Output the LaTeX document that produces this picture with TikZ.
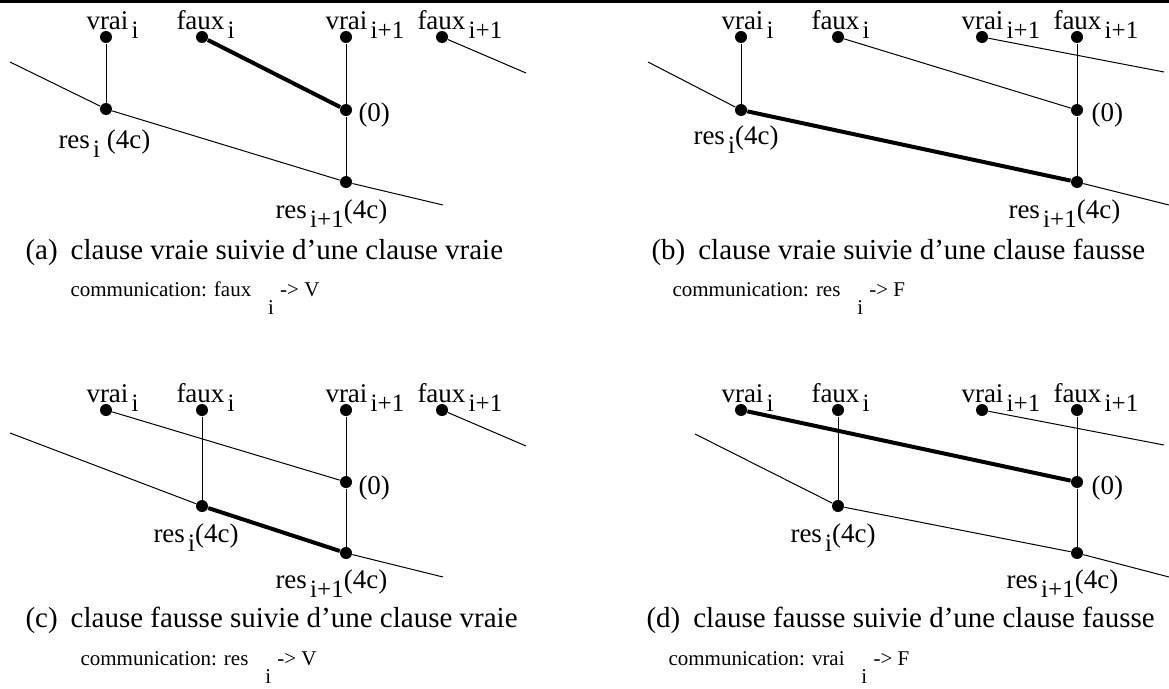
\documentclass[tikz,border=0pt]{standalone}
\usepackage{fontspec}
\setmainfont{Liberation Serif}
\newcommand{\lowidx}[1]{\hspace{0.12em}\raisebox{-0.36em}{\fontsize{25pt}{25pt}\selectfont #1}}
\newcommand{\commidx}[1]{\hspace{0.8em}\raisebox{-0.9em}{#1}\hspace{0.3em}}

\begin{document}
\begin{tikzpicture}[x=1pt, y=-1pt, line width=1pt,
  vtx/.style={circle,fill=black,inner sep=0pt,minimum size=12pt},
  lbl/.style={anchor=base west,inner sep=0pt,font=\fontsize{27pt}{30pt}\selectfont},
  subcap/.style={anchor=base west,inner sep=0pt,font=\fontsize{29pt}{32pt}\selectfont},
  comm/.style={anchor=base west,inner sep=0pt,font=\fontsize{21pt}{24pt}\selectfont},
  heavy/.style={line width=4pt}]
  \useasboundingbox (0,0) rectangle (1169,688);
  \draw[line width=3pt] (0,1.5) -- (1169,1.5);

  % (a)
  \begin{scope}
    \node[vtx] (aV) at (106,37) {};
    \node[vtx] (aF) at (202,37) {};
    \node[vtx] (aV1) at (346,37) {};
    \node[vtx] (aF1) at (442,37) {};
    \node[vtx] (aZ) at (346,110) {};
    \node[vtx] (aR) at (106,109) {};
    \node[vtx] (aR1) at (346,182) {};
    \coordinate (aL) at (10,62);
    \coordinate (aE) at (443,205);
    \coordinate (aT) at (526,73);
    \node[lbl] (aVt) at (86,29) {vrai\lowidx{i}};
    \node[lbl] (aFt) at (176,29) {faux\lowidx{i}};
    \node[lbl] (aV1t) at (325,29) {vrai\lowidx{i+1}};
    \node[lbl] (aF1t) at (417,29) {faux\lowidx{i+1}};
    \node[lbl] (aZt) at (358,121) {(0)};
    \node[lbl] (aRt) at (58,148) {res\lowidx{i} (4c)};
    \node[lbl] (aR1t) at (275,218) {res\lowidx{i+1}(4c)};
    \draw (aL) -- (aR) -- (aR1) -- (aE);
    \draw (aV) -- (aR);
    \draw (aV1) -- (aZ) -- (aR1);
    \draw (aF1) -- (aT);
    \draw[heavy] (aF) -- (aZ);
    \node[subcap] (aC) at (25,259) {(a)\hspace{0.45em}clause vraie suivie d'une clause vraie};
    \node[comm] (aM) at (70,296) {communication: faux\commidx{i}-> V};
  \end{scope}

  % (b)
  \begin{scope}[shift={(635,0)}]
    \node[vtx] (bV) at (106,37) {};
    \node[vtx] (bF) at (203,37) {};
    \node[vtx] (bV1) at (347,37) {};
    \node[vtx] (bF1) at (442,37) {};
    \node[vtx] (bZ) at (442,110) {};
    \node[vtx] (bR) at (106,110) {};
    \node[vtx] (bR1) at (442,182) {};
    \coordinate (bL) at (13,62);
    \coordinate (bE) at (534,205);
    \coordinate (bT) at (529,72);
    \node[lbl] (bVt) at (86,29) {vrai\lowidx{i}};
    \node[lbl] (bFt) at (176,29) {faux\lowidx{i}};
    \node[lbl] (bV1t) at (326,29) {vrai\lowidx{i+1}};
    \node[lbl] (bF1t) at (418,29) {faux\lowidx{i+1}};
    \node[lbl] (bZt) at (456,121) {(0)};
    \node[lbl] (bRt) at (58,144) {res\lowidx{i}(4c)};
    \node[lbl] (bR1t) at (373,218) {res\lowidx{i+1}(4c)};
    \draw (bL) -- (bR);
    \draw (bR1) -- (bE);
    \draw (bV) -- (bR);
    \draw (bF) -- (bZ);
    \draw (bV1) -- (bT);
    \draw (bF1) -- (bZ) -- (bR1);
    \draw[heavy] (bR) -- (bR1);
    \node[subcap] (bC) at (16,259) {(b)\hspace{0.45em}clause vraie suivie d'une clause fausse};
    \node[comm] (bM) at (37,296) {communication: res\commidx{i}-> F};
  \end{scope}

  % (c)
  \begin{scope}[shift={(0,373)}]
    \node[vtx] (cV) at (106,37) {};
    \node[vtx] (cF) at (202,37) {};
    \node[vtx] (cV1) at (346,37) {};
    \node[vtx] (cF1) at (442,37) {};
    \node[vtx] (cZ) at (346,109) {};
    \node[vtx] (cR) at (202,133) {};
    \node[vtx] (cR1) at (346,180) {};
    \coordinate (cL) at (10,60);
    \coordinate (cE) at (443,204);
    \coordinate (cT) at (526,73);
    \node[lbl] (cVt) at (86,29) {vrai\lowidx{i}};
    \node[lbl] (cFt) at (176,29) {faux\lowidx{i}};
    \node[lbl] (cV1t) at (325,29) {vrai\lowidx{i+1}};
    \node[lbl] (cF1t) at (417,29) {faux\lowidx{i+1}};
    \node[lbl] (cZt) at (358,121) {(0)};
    \node[lbl] (cRt) at (153,169) {res\lowidx{i}(4c)};
    \node[lbl] (cR1t) at (275,215) {res\lowidx{i+1}(4c)};
    \draw (cL) -- (cR);
    \draw (cR1) -- (cE);
    \draw (cV) -- (cZ);
    \draw (cF) -- (cR);
    \draw (cV1) -- (cZ) -- (cR1);
    \draw (cF1) -- (cT);
    \draw[heavy] (cR) -- (cR1);
    \node[subcap] (cC) at (25,254) {(c)\hspace{0.45em}clause fausse suivie d'une clause vraie};
    \node[comm] (cM) at (80,292) {communication: res\commidx{i}-> V};
  \end{scope}

  % (d)
  \begin{scope}[shift={(635,373)}]
    \node[vtx] (dV) at (106,37) {};
    \node[vtx] (dF) at (203,37) {};
    \node[vtx] (dV1) at (347,37) {};
    \node[vtx] (dF1) at (442,37) {};
    \node[vtx] (dZ) at (442,109) {};
    \node[vtx] (dR) at (203,133) {};
    \node[vtx] (dR1) at (442,180) {};
    \coordinate (dL) at (60,61);
    \coordinate (dE) at (534,204);
    \coordinate (dT) at (529,72);
    \node[lbl] (dVt) at (86,29) {vrai\lowidx{i}};
    \node[lbl] (dFt) at (176,29) {faux\lowidx{i}};
    \node[lbl] (dV1t) at (326,29) {vrai\lowidx{i+1}};
    \node[lbl] (dF1t) at (418,29) {faux\lowidx{i+1}};
    \node[lbl] (dZt) at (456,121) {(0)};
    \node[lbl] (dRt) at (155,169) {res\lowidx{i}(4c)};
    \node[lbl] (dR1t) at (371,215) {res\lowidx{i+1}(4c)};
    \draw (dL) -- (dR) -- (dR1) -- (dE);
    \draw (dF) -- (dR);
    \draw (dV1) -- (dT);
    \draw (dF1) -- (dZ) -- (dR1);
    \draw[heavy] (dV) -- (dZ);
    \node[subcap] (dC) at (11,254) {(d)\hspace{0.45em}clause fausse suivie d'une clause fausse};
    \node[comm] (dM) at (33,292) {communication: vrai\commidx{i}-> F};
  \end{scope}
\end{tikzpicture}
\end{document}
